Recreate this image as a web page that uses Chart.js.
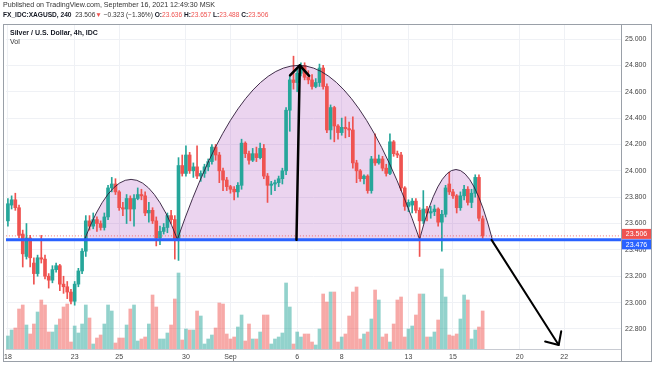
<!DOCTYPE html>
<html><head><meta charset="utf-8">
<script src="https://cdn.jsdelivr.net/npm/chart.js@4/dist/chart.umd.min.js"></script>
<style>
html,body{margin:0;padding:0;background:#fff;}
#wrap{position:relative;width:654px;height:366px;overflow:hidden;background:#fff;}
canvas{position:absolute;left:0;top:0;}
.t{position:absolute;white-space:nowrap;font-family:"Liberation Sans",Arial,sans-serif;color:#131722;line-height:1;}
.r{color:#ef5350;font-weight:normal;}
.n{font-weight:normal;color:#333;}
</style></head><body>
<div id="wrap">
<canvas id="c" width="654" height="366"></canvas>
<div class="t" style="left:3px;top:2px;font-size:7.1px;color:#333">Published on TradingView.com, September 16, 2021 12:49:30 MSK</div>
<div class="t" style="left:3px;top:11.5px;font-size:6.6px;font-weight:bold">FX_IDC:XAGUSD, 240 <span class="n">&nbsp;23.506</span><span class="r">▼</span> <span class="n">−0.323 (−1.36%)</span> O:<span class="r">23.636</span> H:<span class="r">23.657</span> L:<span class="r">23.488</span> C:<span class="r">23.506</span></div>
<div class="t" style="left:10px;top:29px;font-size:7px;font-weight:bold">Silver / U.S. Dollar, 4h, IDC</div>
<div class="t" style="left:10px;top:38px;font-size:7px;color:#333">Vol</div>
</div>
<script>
// ---- data (4h candles, index 0 = first bar of Aug 18) ----
const opens = [23.62,23.74,23.78,23.72,23.52,23.35,23.49,23.30,23.22,23.34,
23.33,23.20,23.17,23.25,23.28,23.14,23.12,23.08,23.01,23.14,
23.24,23.39,23.62,23.58,23.63,23.60,23.57,23.65,23.87,23.90,
23.84,23.72,23.71,23.79,23.71,23.79,23.82,23.81,23.68,23.70,
23.62,23.49,23.54,23.57,23.66,23.63,23.48,24.04,23.98,24.12,
24.00,24.03,23.96,23.98,24.03,24.07,24.18,24.12,24.00,23.93,
23.88,23.86,23.84,23.89,24.21,24.13,24.08,24.13,24.10,24.17,
23.96,23.89,23.90,23.91,23.94,24.00,24.46,24.69,24.67,24.74,
24.80,24.71,24.69,24.64,24.67,24.78,24.64,24.31,24.48,24.34,
24.29,24.33,24.32,24.31,24.06,24.00,23.94,23.96,23.85,24.09,
24.06,24.09,24.02,23.98,24.22,24.13,24.12,23.87,23.73,23.74,
23.77,23.70,23.62,23.71,23.68,23.69,23.71,23.61,23.67,23.90,
23.84,23.81,23.72,23.81,23.86,23.76,23.83,23.95,23.636];
const highs = [23.79,23.81,23.83,23.74,23.55,23.60,23.51,23.34,23.36,23.51,
23.36,23.22,23.28,23.30,23.29,23.20,23.16,23.10,23.16,23.26,
23.41,23.66,23.66,23.68,23.65,23.62,23.68,23.89,23.95,23.94,
23.85,23.76,23.82,23.81,23.82,23.87,23.86,23.84,23.76,23.72,
23.65,23.58,23.60,23.68,23.70,23.66,24.10,24.12,24.19,24.14,
24.06,24.19,24.00,24.05,24.09,24.20,24.20,24.14,24.02,23.95,
23.89,23.88,23.91,24.24,24.22,24.15,24.17,24.18,24.21,24.20,
23.98,23.92,23.93,23.96,24.02,24.48,24.72,24.87,24.78,24.82,
24.82,24.76,24.73,24.70,24.81,24.80,24.66,24.50,24.49,24.35,
24.40,24.41,24.37,24.41,24.08,24.01,23.97,23.97,24.11,24.28,
24.12,24.11,24.05,24.28,24.23,24.15,24.14,23.88,23.78,23.79,
23.79,23.72,23.85,23.73,23.73,23.74,23.72,23.70,23.89,23.99,
23.86,23.82,23.84,23.89,23.88,23.86,23.97,23.97,23.657];
const lows = [23.58,23.71,23.70,23.49,23.27,23.33,23.27,23.14,23.20,23.30,
23.18,23.11,23.15,23.23,23.09,23.07,23.03,22.99,22.98,23.12,
23.22,23.35,23.55,23.56,23.54,23.55,23.55,23.63,23.84,23.82,
23.70,23.66,23.60,23.62,23.58,23.78,23.78,23.66,23.61,23.60,
23.43,23.44,23.52,23.53,23.60,23.33,23.32,23.96,23.96,23.98,
23.95,23.94,23.92,23.95,24.00,24.05,24.08,23.91,23.85,23.85,
23.83,23.78,23.80,23.86,24.10,24.05,24.07,24.07,24.09,23.94,
23.76,23.82,23.85,23.88,23.90,23.97,24.30,24.62,24.60,24.72,
24.69,24.66,24.62,24.63,24.64,24.62,24.29,24.24,24.22,24.24,
24.27,24.25,24.26,24.02,23.91,23.92,23.90,23.83,23.83,24.04,
24.05,24.00,23.96,23.97,24.11,24.10,23.85,23.70,23.69,23.68,
23.68,23.35,23.60,23.62,23.64,23.66,23.58,23.39,23.65,23.82,
23.79,23.68,23.70,23.78,23.74,23.72,23.80,23.62,23.488];
const closes = [23.75,23.78,23.72,23.51,23.37,23.49,23.34,23.22,23.34,23.33,
23.20,23.17,23.25,23.28,23.14,23.12,23.08,23.01,23.14,23.24,
23.39,23.62,23.58,23.63,23.60,23.57,23.65,23.87,23.90,23.84,
23.72,23.71,23.79,23.71,23.79,23.82,23.81,23.68,23.70,23.62,
23.49,23.54,23.57,23.66,23.63,23.48,24.04,23.98,24.12,24.00,
24.03,23.96,23.98,24.03,24.07,24.18,24.12,24.00,23.93,23.88,
23.86,23.84,23.89,24.21,24.13,24.08,24.13,24.10,24.17,23.96,
23.89,23.90,23.91,23.94,24.00,24.46,24.69,24.67,24.74,24.80,
24.71,24.69,24.64,24.67,24.78,24.64,24.31,24.48,24.34,24.29,
24.33,24.32,24.31,24.06,24.00,23.94,23.96,23.85,24.09,24.06,
24.09,24.02,23.98,24.22,24.13,24.12,23.87,23.73,23.76,23.77,
23.70,23.62,23.71,23.68,23.69,23.71,23.61,23.67,23.87,23.84,
23.81,23.72,23.81,23.86,23.76,23.83,23.95,23.64,23.506];
const volumes = [13,19,21,40,44,24,15,25,37,49,
44,17,17,24,30,42,45,7,23,16,
25,44,31,5,11,14,25,44,38,6,
11,11,24,40,44,8,10,12,25,54,
42,10,10,16,24,50,76,9,20,19,
19,38,33,5,10,14,21,46,45,15,
10,12,22,34,8,25,10,10,17,34,
34,5,10,12,16,66,42,5,17,12,
15,15,7,4,20,55,47,57,57,7,
12,15,33,57,62,10,15,17,30,59,
49,12,15,7,25,49,52,12,20,23,
34,55,55,12,12,17,29,80,52,14,
13,15,30,54,49,10,19,22,38];
const dayTickIdx = [0,18,30,48,60,78,90,108,120,138,150];
const dayTickLabels = ['18','23','25','30','Sep','6','8','13','15','20','22'];
const priceTicks = [22.8,23.0,23.2,23.4,23.6,23.8,24.0,24.2,24.4,24.6,24.8,25.0];
// drawings: arcs (head & shoulders), support line, arrows
const supportPrice = 23.476;
const lastPrice = 23.506;
const arcBase = 23.48;
const arcStart = [20.7, 45.7, 111.0];
const arcEnd = [45.7, 111.0, 130.6];
const arcPeak = [23.935, 24.80, 24.01];
const arrowFromIdx = [77.8, 130.4];
const arrowFromPrice = [23.476, 23.476];
const arrowToIdx = [78.7, 148.5];
const arrowToPrice = [24.80, 22.678];
const arrowWidth = [2.5, 2];

Chart.defaults.font.family = "'Liberation Sans', Arial, sans-serif";
const UP = '#26a69a', DN = '#ef5350';
const isUp = opens.map((o, i) => closes[i] >= o);
const candleColor = isUp.map(u => u ? UP : DN);
const volColor = isUp.map(u => u ? 'rgba(38,166,154,0.5)' : 'rgba(239,83,80,0.5)');
const tickLabelMap = {};
dayTickIdx.forEach((v, k) => tickLabelMap[v] = dayTickLabels[k]);

function arrowHead(ctx, x0, y0, x1, y1, len, ang) {
  const a = Math.atan2(y0 - y1, x0 - x1);
  ctx.beginPath();
  ctx.moveTo(x1 + len * Math.cos(a + ang), y1 + len * Math.sin(a + ang));
  ctx.lineTo(x1, y1);
  ctx.lineTo(x1 + len * Math.cos(a - ang), y1 + len * Math.sin(a - ang));
  ctx.stroke();
}

const overlay = {
  id: 'overlay',
  beforeDatasetsDraw(chart) {
    const {ctx, chartArea: a, scales: {x, y}} = chart;
    ctx.save();
    ctx.beginPath(); ctx.rect(a.left, a.top, a.right - a.left, a.bottom - a.top); ctx.clip();
    for (let k = 0; k < arcStart.length; k++) {
      const x0 = x.getPixelForValue(arcStart[k]), x1 = x.getPixelForValue(arcEnd[k]);
      const yb = y.getPixelForValue(arcBase), yp = y.getPixelForValue(arcPeak[k]);
      ctx.beginPath(); ctx.moveTo(x0, yb);
      ctx.quadraticCurveTo((x0 + x1) / 2, 2 * yp - yb, x1, yb); ctx.closePath();
      ctx.fillStyle = 'rgba(156,39,176,0.2)'; ctx.fill();
    }
    ctx.restore();
  },
  afterDatasetsDraw(chart) {
    const {ctx, chartArea: a, scales: {x, y}} = chart;
    ctx.save();
    ctx.beginPath(); ctx.rect(a.left, a.top, a.right - a.left, a.bottom - a.top); ctx.clip();
    for (let k = 0; k < arcStart.length; k++) {
      const x0 = x.getPixelForValue(arcStart[k]), x1 = x.getPixelForValue(arcEnd[k]);
      const yb = y.getPixelForValue(arcBase), yp = y.getPixelForValue(arcPeak[k]);
      ctx.beginPath(); ctx.moveTo(x0, yb);
      ctx.quadraticCurveTo((x0 + x1) / 2, 2 * yp - yb, x1, yb);
      ctx.strokeStyle = 'rgba(45,25,55,0.9)'; ctx.lineWidth = 1; ctx.stroke();
    }
    const yl = y.getPixelForValue(lastPrice);
    ctx.setLineDash([1, 2]); ctx.strokeStyle = 'rgba(239,83,80,0.8)'; ctx.lineWidth = 1;
    ctx.beginPath(); ctx.moveTo(a.left, yl); ctx.lineTo(a.right, yl); ctx.stroke();
    ctx.setLineDash([]);
    const ys = y.getPixelForValue(supportPrice);
    ctx.strokeStyle = '#2962ff'; ctx.lineWidth = 3;
    ctx.beginPath(); ctx.moveTo(a.left, ys); ctx.lineTo(a.right, ys); ctx.stroke();
    ctx.strokeStyle = '#000'; ctx.lineCap = 'round'; ctx.lineJoin = 'round';
    for (let k = 0; k < arrowFromIdx.length; k++) {
      const x0 = x.getPixelForValue(arrowFromIdx[k]), y0 = y.getPixelForValue(arrowFromPrice[k]);
      const x1 = x.getPixelForValue(arrowToIdx[k]), y1 = y.getPixelForValue(arrowToPrice[k]);
      ctx.lineWidth = arrowWidth[k];
      ctx.beginPath(); ctx.moveTo(x0, y0); ctx.lineTo(x1, y1); ctx.stroke();
      arrowHead(ctx, x0, y0, x1, y1, 14, 0.75);
    }
    ctx.restore();
    ctx.save();
    ctx.strokeStyle = '#9aa0a8'; ctx.lineWidth = 1;
    ctx.strokeRect(3.5, 24.5, 648, 337);
    ctx.beginPath(); ctx.moveTo(Math.round(a.right) + 0.5, 25); ctx.lineTo(Math.round(a.right) + 0.5, 361); ctx.stroke();
    ctx.strokeStyle = '#c8cbd2';
    ctx.beginPath(); ctx.moveTo(a.left, Math.round(a.bottom) + 0.5); ctx.lineTo(a.right, Math.round(a.bottom) + 0.5); ctx.stroke();
    const boxes = [[lastPrice, yl - 2, DN], [supportPrice, ys + 4.5, '#2962ff']];
    ctx.font = "7px 'Liberation Sans', Arial, sans-serif"; ctx.textBaseline = 'middle'; ctx.textAlign = 'center';
    boxes.forEach(([p, cy, col]) => {
      ctx.fillStyle = col; ctx.fillRect(a.right + 1, cy - 5, 29, 10);
      ctx.fillStyle = '#fff'; ctx.fillText(p.toFixed(3), a.right + 15.5, cy + 0.5);
    });
    ctx.restore();
  }
};

const idx = opens.map((_, i) => i);
new Chart(document.getElementById('c'), {
  type: 'bar',
  data: {
    datasets: [
      { label: 'body', data: idx.map(i => ({x: i, y: [opens[i], closes[i]]})), backgroundColor: candleColor,
        barThickness: 3, minBarLength: 1, grouped: false, yAxisID: 'y', order: 1, borderWidth: 0 },
      { label: 'wick', data: idx.map(i => ({x: i, y: [lows[i], highs[i]]})), backgroundColor: candleColor,
        barThickness: 1, grouped: false, yAxisID: 'y', order: 2, borderWidth: 0 },
      { label: 'Vol', data: idx.map(i => ({x: i, y: volumes[i]})), backgroundColor: volColor,
        barThickness: 3, grouped: false, yAxisID: 'yv', order: 3, borderWidth: 0 }
    ]
  },
  options: {
    responsive: false, animation: false, events: [],
    layout: { padding: { left: 4, top: 25, right: 0, bottom: 0 } },
    plugins: { legend: { display: false }, tooltip: { enabled: false } },
    scales: {
      x: {
        type: 'linear', min: -0.54, max: 165.3, offset: false,
        grid: { offset: false, color: '#eff1f5', drawTicks: false },
        border: { display: false },
        afterBuildTicks: s => { s.ticks = dayTickIdx.map(v => ({value: v})); },
        afterFit: s => { s.height = 17; },
        ticks: { autoSkip: false, maxRotation: 0, padding: 4, color: '#444', font: { size: 7 },
          callback: v => tickLabelMap[v] ?? '' }
      },
      y: {
        position: 'right', min: 22.6477, max: 25.1066,
        grid: { color: '#eff1f5', drawTicks: false },
        border: { display: false },
        afterBuildTicks: s => { s.ticks = priceTicks.map(v => ({value: v})); },
        afterFit: s => { s.width = 33; },
        ticks: { padding: 4, color: '#444', font: { size: 7 }, callback: v => Number(v).toFixed(3) }
      },
      yv: { display: false, min: 0, max: 324 }
    }
  },
  plugins: [overlay]
});
</script>
</body></html>
